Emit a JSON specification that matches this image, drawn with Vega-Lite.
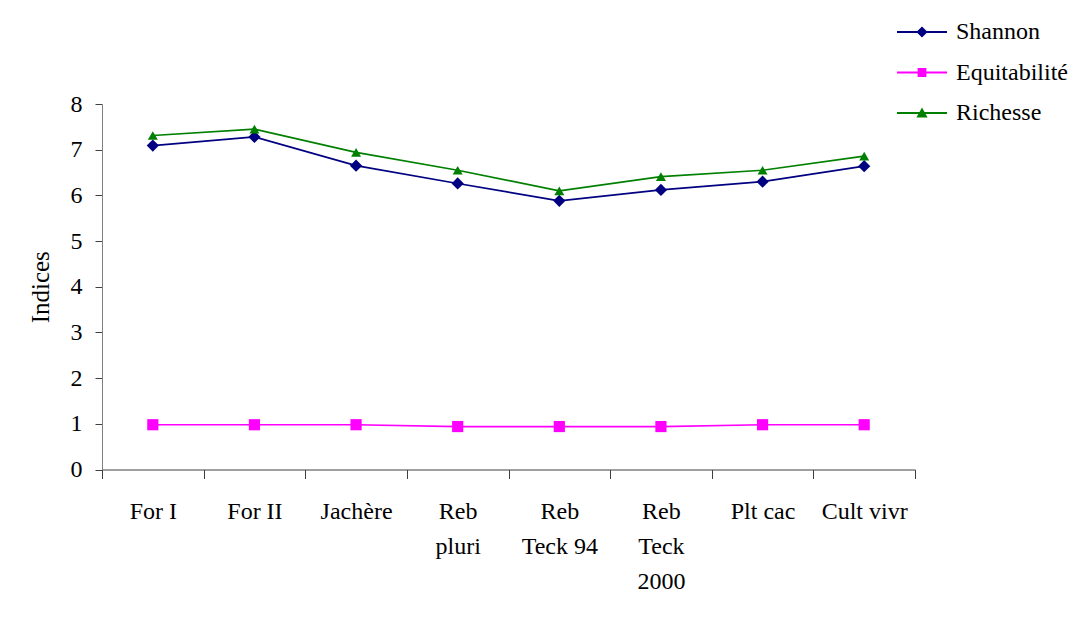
{
  "$schema": "https://vega.github.io/schema/vega-lite/v6.json",
  "width": 813,
  "height": 365.5,
  "autosize": "none",
  "padding": {"left": 102, "top": 104, "right": 171, "bottom": 157.5},
  "background": "white",
  "config": {
    "font": "Liberation Serif",
    "view": {"stroke": null},
    "axis": {
      "grid": false,
      "labelFont": "Liberation Serif",
      "labelFontSize": 24,
      "labelColor": "black",
      "titleFont": "Liberation Serif",
      "titleFontSize": 25,
      "titleFontWeight": "normal",
      "titleColor": "black"
    },
    "legend": {
      "labelFont": "Liberation Serif",
      "labelFontSize": 24,
      "labelColor": "black"
    }
  },
  "data": {
    "values": [
      {"milieu": "For I", "indice": "Shannon", "valeur": 7.09},
      {"milieu": "For II", "indice": "Shannon", "valeur": 7.28},
      {"milieu": "Jachère", "indice": "Shannon", "valeur": 6.65},
      {"milieu": "Reb pluri", "indice": "Shannon", "valeur": 6.26},
      {"milieu": "Reb Teck 94", "indice": "Shannon", "valeur": 5.88},
      {"milieu": "Reb Teck 2000", "indice": "Shannon", "valeur": 6.12},
      {"milieu": "Plt cac", "indice": "Shannon", "valeur": 6.3},
      {"milieu": "Cult vivr", "indice": "Shannon", "valeur": 6.64},
      {"milieu": "For I", "indice": "Equitabilité", "valeur": 0.98},
      {"milieu": "For II", "indice": "Equitabilité", "valeur": 0.98},
      {"milieu": "Jachère", "indice": "Equitabilité", "valeur": 0.98},
      {"milieu": "Reb pluri", "indice": "Equitabilité", "valeur": 0.94},
      {"milieu": "Reb Teck 94", "indice": "Equitabilité", "valeur": 0.94},
      {"milieu": "Reb Teck 2000", "indice": "Equitabilité", "valeur": 0.94},
      {"milieu": "Plt cac", "indice": "Equitabilité", "valeur": 0.98},
      {"milieu": "Cult vivr", "indice": "Equitabilité", "valeur": 0.98},
      {"milieu": "For I", "indice": "Richesse", "valeur": 7.31},
      {"milieu": "For II", "indice": "Richesse", "valeur": 7.45},
      {"milieu": "Jachère", "indice": "Richesse", "valeur": 6.94},
      {"milieu": "Reb pluri", "indice": "Richesse", "valeur": 6.55},
      {"milieu": "Reb Teck 94", "indice": "Richesse", "valeur": 6.1},
      {"milieu": "Reb Teck 2000", "indice": "Richesse", "valeur": 6.41},
      {"milieu": "Plt cac", "indice": "Richesse", "valeur": 6.55},
      {"milieu": "Cult vivr", "indice": "Richesse", "valeur": 6.86}
    ]
  },
  "encoding": {
    "x": {
      "field": "milieu",
      "type": "nominal",
      "sort": ["For I", "For II", "Jachère", "Reb pluri", "Reb Teck 94", "Reb Teck 2000", "Plt cac", "Cult vivr"],
      "scale": {"type": "band", "paddingInner": 0, "paddingOuter": 0},
      "axis": {
        "title": null,
        "labelAngle": 0,
        "tickBand": "extent",
        "tickSize": 9,
        "labelPadding": 21,
        "labelLineHeight": 35,
        "domainColor": "#404040",
        "tickColor": "#404040",
        "labelExpr": "datum.value == 'Reb pluri' ? ['Reb', 'pluri'] : datum.value == 'Reb Teck 94' ? ['Reb', 'Teck 94'] : datum.value == 'Reb Teck 2000' ? ['Reb', 'Teck', '2000'] : datum.label"
      }
    },
    "y": {
      "field": "valeur",
      "type": "quantitative",
      "scale": {"domain": [0, 8], "nice": false, "zero": true},
      "axis": {
        "title": "Indices",
        "values": [0, 1, 2, 3, 4, 5, 6, 7, 8],
        "tickSize": 7,
        "labelPadding": 13,
        "titlePadding": 17,
        "domainColor": "#808080",
        "tickColor": "#404040"
      }
    }
  },
  "layer": [
    {
      "mark": {"type": "line", "strokeWidth": 1.7},
      "encoding": {
        "color": {
          "field": "indice",
          "type": "nominal",
          "scale": {"domain": ["Shannon", "Equitabilité", "Richesse"], "range": ["#000080", "#FF00FF", "#008000"]},
          "legend": null
        }
      }
    },
    {
      "mark": {"type": "point", "filled": true, "opacity": 1, "strokeWidth": 0},
      "encoding": {
        "color": {
          "field": "indice",
          "type": "nominal",
          "scale": {"domain": ["Shannon", "Equitabilité", "Richesse"], "range": ["#000080", "#FF00FF", "#008000"]},
          "legend": null
        },
        "shape": {
          "field": "indice",
          "type": "nominal",
          "scale": {"domain": ["Shannon", "Equitabilité", "Richesse"], "range": ["diamond", "square", "triangle-up"]},
          "legend": null
        },
        "size": {
          "field": "indice",
          "type": "nominal",
          "scale": {"domain": ["Shannon", "Equitabilité", "Richesse"], "range": [150, 100, 175]},
          "legend": null
        }
      }
    },
    {
      "mark": {"type": "point", "filled": true, "opacity": 0, "strokeWidth": 0, "size": 1600},
      "encoding": {
        "color": {
          "field": "indice",
          "type": "nominal",
          "scale": {"domain": ["Shannon", "Equitabilité", "Richesse"], "range": ["#000080", "#FF00FF", "#008000"]},
          "legend": {
            "title": null,
            "orient": "none",
            "legendX": 800,
            "legendY": -92,
            "rowPadding": 8.5,
            "symbolOpacity": 1,
            "symbolStrokeWidth": 0,
            "symbolSize": 1600,
            "labelOffset": 14
          }
        },
        "shape": {
          "field": "indice",
          "type": "nominal",
          "scale": {
            "domain": ["Shannon", "Equitabilité", "Richesse"],
            "range": [
              "M-1.25,-0.05H1.25V0.05H-1.25Z M0,-0.28L0.28,0L0,0.28L-0.28,0Z",
              "M-1.25,-0.05H1.25V0.05H-1.25Z M-0.22,-0.22H0.22V0.22H-0.22Z",
              "M-1.25,-0.05H1.25V0.05H-1.25Z M0,-0.28L0.28,0.22L-0.28,0.22Z"
            ]
          },
          "legend": {
            "title": null,
            "orient": "none",
            "legendX": 800,
            "legendY": -92,
            "rowPadding": 8.5,
            "symbolOpacity": 1,
            "symbolStrokeWidth": 0,
            "symbolSize": 1600,
            "labelOffset": 14
          }
        }
      }
    }
  ],
  "resolve": {"scale": {"color": "independent", "shape": "independent", "size": "independent"}}
}
